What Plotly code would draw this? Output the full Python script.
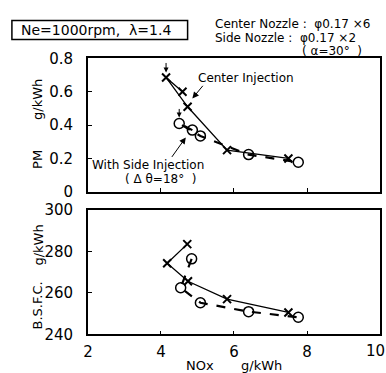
import plotly.graph_objects as go
from plotly.subplots import make_subplots

# Data (NOx g/kWh, PM g/kWh, BSFC g/kWh)
center_nox_pm = [4.59, 4.14, 4.73, 5.81, 7.49]
center_pm = [0.60, 0.686, 0.51, 0.25, 0.20]
side_nox_pm = [4.86, 4.50, 5.08, 6.40, 7.76]
side_pm = [0.37, 0.41, 0.335, 0.223, 0.177]

center_nox_bs = [4.72, 4.17, 4.74, 5.81, 7.49]
center_bsfc = [283.5, 274.3, 265.6, 257.0, 250.6]
side_nox_bs = [4.84, 4.54, 5.08, 6.40, 7.76]
side_bsfc = [276.4, 262.5, 255.3, 251.0, 248.3]

x_ticks = [2, 4, 6, 8, 10]
pm_ticks = [0, 0.2, 0.4, 0.6, 0.8]
pm_labels = ["0", "0.2", "0.4", "0.6", "0.8"]
bs_ticks = [240, 260, 280, 300]

W, H = 386, 373
FONT = "DejaVu Sans, Verdana, sans-serif"

fig = make_subplots(rows=2, cols=1)

line_c = dict(color="black", width=1.3)
line_s = dict(color="black", width=2.2, dash="dash")
mk_c = dict(symbol="x-thin-open", size=8, color="black", line=dict(color="black", width=2))
mk_s = dict(symbol="circle-open", size=10, color="black", line=dict(color="black", width=1.5))

fig.add_trace(go.Scatter(x=center_nox_pm, y=center_pm, mode="lines+markers", line=line_c, marker=mk_c), row=1, col=1)
fig.add_trace(go.Scatter(x=side_nox_pm, y=side_pm, mode="lines+markers", line=line_s, marker=mk_s), row=1, col=1)
fig.add_trace(go.Scatter(x=center_nox_bs, y=center_bsfc, mode="lines+markers", line=line_c, marker=mk_c), row=2, col=1)
fig.add_trace(go.Scatter(x=side_nox_bs, y=side_bsfc, mode="lines+markers", line=line_s, marker=mk_s), row=2, col=1)

def px(p):
    return p / W

def py(p):
    return 1 - p / H

ax_common = dict(showgrid=False, zeroline=False, showline=True, linecolor="black", linewidth=1.5,
                 mirror=True, ticks="inside", ticklen=4, tickcolor="black",
                 tickfont=dict(family=FONT, size=15, color="black"))

# last x tick label is drawn separately so it stays inside the page
x_text = [str(v) for v in x_ticks[:-1]] + [""]
fig.update_xaxes(range=[2, 10], tickvals=x_ticks, ticktext=x_text, domain=[px(84), px(380)],
                 ticklabelstandoff=3, **ax_common)
fig.update_xaxes(showticklabels=False, row=1, col=1)
fig.update_yaxes(ticklabelstandoff=10, **ax_common)
fig.update_yaxes(range=[0, 0.8], tickvals=pm_ticks, ticktext=pm_labels,
                 domain=[py(192), py(52)], row=1, col=1)
fig.update_yaxes(range=[240, 300], tickvals=bs_ticks,
                 domain=[py(342), py(211)], row=2, col=1)

def txt(x, y, s, size=13, **kw):
    d = dict(xref="paper", yref="paper", x=px(x), y=py(y), text=s, showarrow=False,
             xanchor="center", yanchor="middle", font=dict(family=FONT, size=size, color="black"))
    d.update(kw)
    return d

ann = []
# header texts
ann.append(txt(14, 22, "Ne=1000rpm,  λ=1.4", size=14, xanchor="left"))
ann.append(txt(211, 15.5, "Center Nozzle :  φ0.17 ×6", size=12, xanchor="left"))
ann.append(txt(211, 30, "Side Nozzle :  φ0.17 ×2", size=12, xanchor="left"))
ann.append(txt(331, 44.5, "( α=30°  )", size=12))
# axis titles
ann.append(txt(33, 95, "g/kWh", size=13, textangle=-90))
ann.append(txt(33, 158, "PM", size=13, textangle=-90))
ann.append(txt(33, 248, "g/kWh", size=13, textangle=-90))
ann.append(txt(33, 312, "B.S.F.C.", size=13, textangle=-90))
ann.append(txt(198, 375, "NOx", size=13))
ann.append(txt(260, 375, "g/kWh", size=13))
# last x tick label
ann.append(dict(xref="paper", yref="paper", x=1.0, y=py(359), text=str(x_ticks[-1]),
                showarrow=False, xanchor="right", yanchor="middle", borderpad=0,
                font=dict(family=FONT, size=15, color="black")))
# in-plot labels
ann.append(txt(244, 72, "Center Injection", size=12))
ann.append(dict(xref="x", yref="y", x=4.86, y=0.56, ax=5.18, ay=0.645, axref="x", ayref="y",
                text="", showarrow=True, arrowhead=2, arrowsize=1.3, arrowwidth=1, arrowcolor="black"))
ann.append(txt(145, 164, "With Side Injection", size=12))
ann.append(txt(158, 179, "( Δ θ=18°  )", size=12))
ann.append(dict(xref="x", yref="y", x=4.68, y=0.326, ax=4.27, ay=0.2, axref="x", ayref="y",
                text="", showarrow=True, arrowhead=2, arrowsize=1.3, arrowwidth=1, arrowcolor="black"))
# small direction arrows
ann.append(dict(xref="x", yref="y", x=center_nox_pm[1], y=center_pm[1], ax=0, ay=-16,
                text="", showarrow=True, arrowhead=2, arrowsize=1, arrowwidth=1, standoff=5, arrowcolor="black"))
ann.append(dict(xref="x", yref="y", x=side_nox_pm[1], y=side_pm[1], ax=0, ay=-16,
                text="", showarrow=True, arrowhead=2, arrowsize=1, arrowwidth=1, standoff=6, arrowcolor="black"))

shapes = [dict(type="rect", xref="paper", yref="paper", x0=px(7), x1=px(185), y0=py(32), y1=py(12),
               line=dict(color="black", width=1.5))]

fig.update_layout(width=W, height=H, margin=dict(l=0, r=0, t=0, b=0),
                  paper_bgcolor="white", plot_bgcolor="white", showlegend=False,
                  annotations=ann, shapes=shapes)

fig.write_html("out.html")
